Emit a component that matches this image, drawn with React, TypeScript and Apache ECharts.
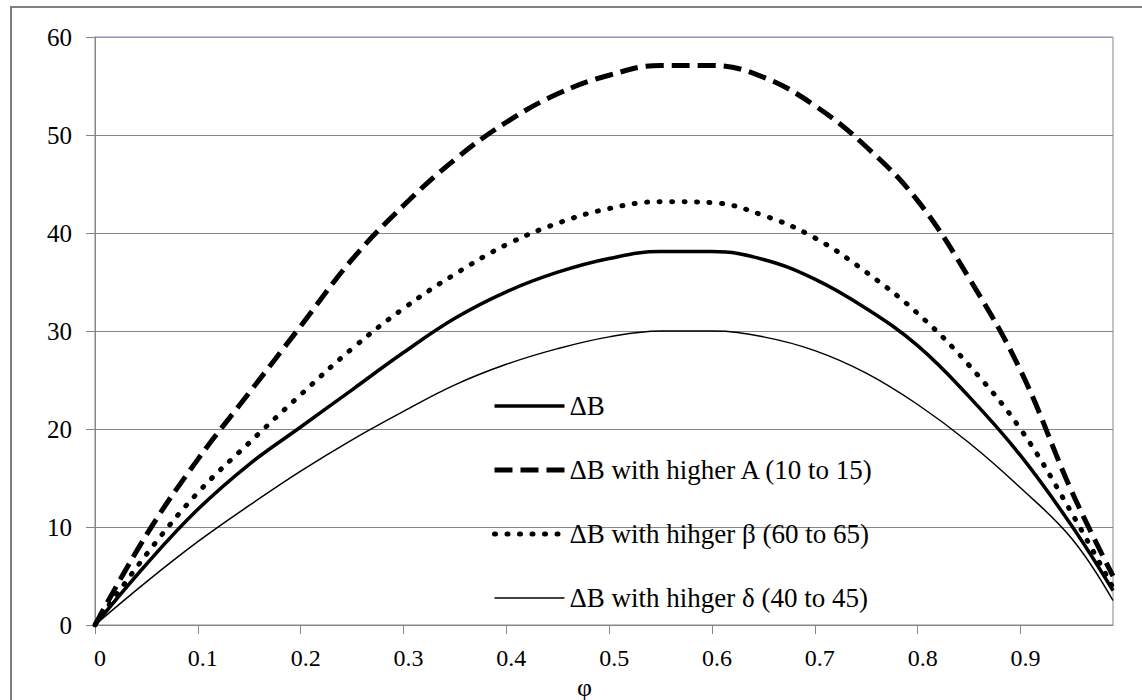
import React, { useEffect, useRef } from "react";
import * as echarts from "echarts";

const phi = [0, 0.05, 0.1, 0.15, 0.2, 0.25, 0.3, 0.35, 0.4, 0.45, 0.5, 0.55, 0.6, 0.65, 0.7, 0.75, 0.8, 0.85, 0.9, 0.95, 0.99];
const deltaB = [0, 6.2, 11.8, 16.4, 20.2, 24.0, 27.8, 31.3, 34.0, 36.0, 37.4, 38.1, 38.1, 37.3, 35.3, 32.3, 28.5, 23.3, 17.3, 10.1, 3.5];
const higherA = [0, 9.2, 16.9, 23.7, 30.5, 37.3, 42.8, 47.5, 51.3, 54.2, 56.1, 57.1, 57.1, 55.9, 53.0, 48.8, 43.3, 35.4, 26.0, 13.6, 5.0];
const higherBeta = [0, 7.2, 13.5, 18.6, 23.5, 28.2, 32.3, 35.8, 38.8, 41.0, 42.5, 43.2, 43.1, 41.8, 39.5, 36.0, 31.8, 26.5, 20.0, 11.4, 3.8];
const higherDelta = [0, 4.4, 8.5, 12.2, 15.7, 18.9, 21.8, 24.5, 26.6, 28.2, 29.4, 30.0, 30.0, 29.4, 28.0, 25.7, 22.5, 18.6, 14.0, 8.8, 2.5];

const seriesNames = [
  "\u0394B",
  "\u0394B with higher A (10 to 15)",
  "\u0394B with hihger \u03B2 (60 to 65)",
  "\u0394B with hihger \u03B4 (40 to 45)",
];
const xAxisTitle = "\u03C6";

const FONT = "Liberation Serif";
const GRID = "#868686";

export default function App() {
  const ref = useRef<HTMLDivElement>(null);

  useEffect(() => {
    if (!ref.current) return;
    const chart = echarts.init(ref.current, undefined, { renderer: "svg" });
    const pairs = (vals: number[]) => phi.map((p, i) => [p, vals[i]]);

    const option: any = {
      animation: false,
      backgroundColor: "#ffffff",
      color: ["#000", "#000", "#000", "#000"],
      textStyle: { fontFamily: FONT },
      grid: {
        left: 95,
        top: 37,
        right: 29,
        bottom: 75,
        show: true,
        borderColor: GRID,
        borderWidth: 1,
        backgroundColor: "transparent",
      },
      xAxis: {
        type: "value",
        min: 0,
        max: 0.99,
        interval: 0.1,
        axisLine: { show: true, lineStyle: { color: GRID, width: 1 } },
        axisTick: { show: true, inside: false, length: 9, lineStyle: { color: GRID } },
        axisLabel: {
          show: true,
          showMaxLabel: false,
          margin: 21,
          color: "#000",
          fontFamily: FONT,
          fontSize: 24,
          padding: [0, 0, 0, 10],
          formatter: (v: number) => String(Math.round(v * 10) / 10),
        },
        splitLine: { show: false },
      },
      yAxis: {
        type: "value",
        min: 0,
        max: 60,
        interval: 10,
        axisLine: { show: true, lineStyle: { color: GRID, width: 1 } },
        axisTick: { show: true, inside: false, length: 9, lineStyle: { color: GRID } },
        axisLabel: {
          margin: 23,
          color: "#000",
          fontFamily: FONT,
          fontSize: 25,
        },
        splitLine: {
          show: true,
          lineStyle: {
            color: [GRID, GRID, GRID, GRID, GRID, GRID, "#9a9ad4"],
            width: 1,
          },
        },
      },
      legend: {
        show: true,
        orient: "vertical",
        left: 487,
        top: 386,
        itemWidth: 70,
        itemHeight: 14,
        itemGap: 34,
        data: seriesNames,
        selectedMode: false,
        itemStyle: { opacity: 0 },
        lineStyle: { width: "inherit" },
        textStyle: {
          color: "#000",
          fontFamily: FONT,
          fontSize: 27,
          lineHeight: 30,
        },
      },
      series: [
        {
          name: seriesNames[0],
          type: "line",
          data: pairs(deltaB),
          smooth: 0.4,
          symbol: "none",
          lineStyle: { color: "#000", width: 3.5, type: "solid" },
          z: 4,
        },
        {
          name: seriesNames[1],
          type: "line",
          data: pairs(higherA),
          smooth: 0.4,
          symbol: "none",
          lineStyle: { color: "#000", width: 5, type: [18, 8], cap: "butt" },
          z: 3,
        },
        {
          name: seriesNames[2],
          type: "line",
          data: pairs(higherBeta),
          smooth: 0.4,
          symbol: "none",
          lineStyle: { color: "#000", width: 5, type: [1, 11.5], cap: "round" },
          z: 3,
        },
        {
          name: seriesNames[3],
          type: "line",
          data: pairs(higherDelta),
          smooth: 0.4,
          symbol: "none",
          lineStyle: { color: "#000", width: 1.5, type: "solid" },
          z: 3,
        },
      ],
      graphic: [
        {
          type: "rect",
          z: -10,
          silent: true,
          shape: { x: 11, y: 7, width: 1300, height: 900 },
          style: { fill: "transparent", stroke: "#808080", lineWidth: 2 },
        },
        {
          type: "text",
          left: 577,
          top: 674,
          silent: true,
          style: {
            text: xAxisTitle,
            fill: "#000",
            fontFamily: FONT,
            fontSize: 26,
          },
        },
      ],
    };

    chart.setOption(option);
    return () => {
      chart.dispose();
    };
  }, []);

  return (
    <div
      ref={ref}
      style={{ position: "absolute", left: 0, top: 0, width: 1142, height: 700 }}
    />
  );
}
